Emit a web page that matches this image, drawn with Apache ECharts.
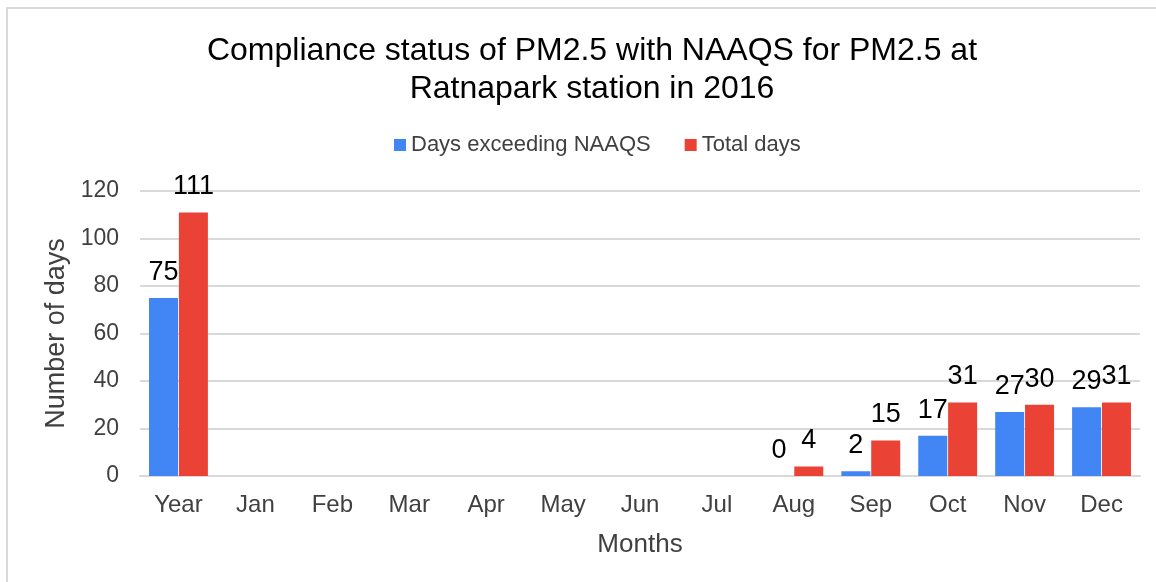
<!DOCTYPE html>
<html>
<head>
<meta charset="utf-8">
<script src="https://cdn.jsdelivr.net/npm/echarts@6/dist/echarts.min.js"></script>
<style>
  html, body { margin: 0; padding: 0; background: #fff; }
  #main { width: 1156px; height: 582px; }
</style>
</head>
<body>
<div id="main"></div>
<script>
var months = ['Year', 'Jan', 'Feb', 'Mar', 'Apr', 'May', 'Jun', 'Jul', 'Aug', 'Sep', 'Oct', 'Nov', 'Dec'];
var exceeding = [75, null, null, null, null, null, null, null, 0, 2, 17, 27, 29];
var totalDays = [111, null, null, null, null, null, null, null, 4, 15, 31, 30, 31];
var yTicks = [0, 20, 40, 60, 80, 100, 120];

var chart = echarts.init(document.getElementById('main'));

var font = 'Liberation Sans, Arial, sans-serif';

var option = {
  backgroundColor: '#fff',
  graphic: [{
    type: 'rect',
    shape: { x: 7, y: 8, width: 1200, height: 620 },
    style: { fill: 'none', stroke: '#d9d9d9', lineWidth: 2 }
  }],
  title: {
    text: 'Compliance status of PM2.5 with NAAQS for PM2.5 at\nRatnapark station in 2016',
    left: 587,
    textAlign: 'center',
    top: 27,
    textStyle: {
      fontFamily: font,
      fontSize: 32,
      fontWeight: 'normal',
      color: '#000',
      lineHeight: 38
    }
  },
  legend: {
    top: 129,
    left: 389,
    itemWidth: 12,
    itemHeight: 12,
    itemGap: 34,
    icon: 'rect',
    textStyle: { fontFamily: font, fontSize: 22, color: '#404040' },
    data: ['Days exceeding NAAQS', 'Total days']
  },
  grid: {
    left: 140,
    right: 16,
    top: 191,
    bottom: 106,
    containLabel: false
  },
  xAxis: {
    type: 'category',
    data: months,
    name: 'Months',
    nameLocation: 'middle',
    nameGap: 56,
    nameTextStyle: { fontFamily: font, fontSize: 26, color: '#404040' },
    axisLine: { lineStyle: { color: '#d9d9d9', width: 2 } },
    axisTick: { show: false },
    axisLabel: { fontFamily: font, fontSize: 24, color: '#404040', margin: 17 }
  },
  yAxis: {
    type: 'value',
    min: yTicks[0],
    max: yTicks[yTicks.length - 1],
    interval: 20,
    name: 'Number of days',
    nameLocation: 'middle',
    nameGap: 68,
    nameTextStyle: { fontFamily: font, fontSize: 27, color: '#404040' },
    axisLine: { show: false },
    axisTick: { show: false },
    axisLabel: { fontFamily: font, fontSize: 23, color: '#404040', margin: 21 },
    splitLine: { lineStyle: { color: '#d9d9d9', width: 2 } }
  },
  series: [{
    name: 'Days exceeding NAAQS',
    type: 'bar',
    data: exceeding,
    barWidth: 29,
    barGap: '3%',
    itemStyle: { color: '#4285F4' },
    label: {
      show: true,
      position: 'top',
      distance: 12,
      fontFamily: font,
      fontSize: 27,
      color: '#000'
    }
  }, {
    name: 'Total days',
    type: 'bar',
    data: totalDays,
    barWidth: 29,
    barGap: '3%',
    itemStyle: { color: '#EA4335' },
    label: {
      show: true,
      position: 'top',
      distance: 12,
      fontFamily: font,
      fontSize: 27,
      color: '#000'
    }
  }]
};

chart.setOption(option);
</script>
</body>
</html>
